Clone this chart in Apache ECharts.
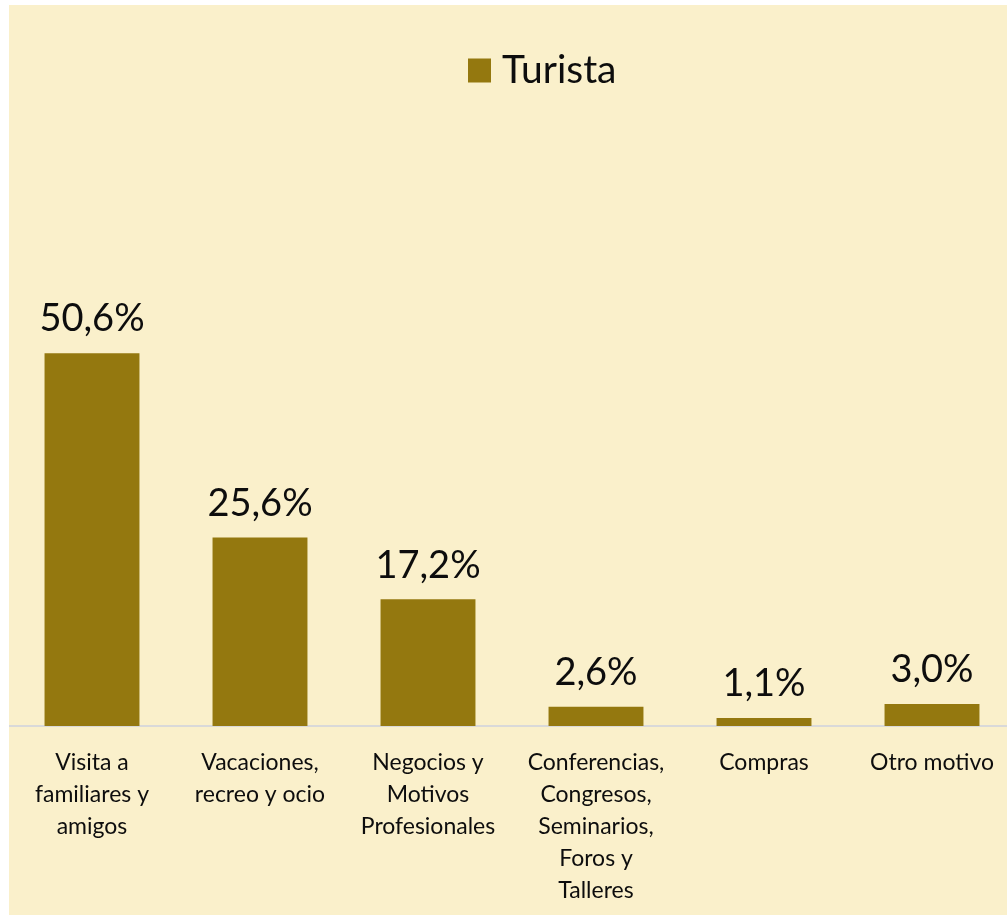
<!DOCTYPE html>
<html>
<head>
<meta charset="utf-8">
<script src="https://cdn.jsdelivr.net/npm/echarts@6/dist/echarts.min.js"></script>
<style>
html,body{margin:0;padding:0;background:#fff;overflow:hidden;}
#main{position:absolute;left:9px;top:5px;width:998px;height:910px;}
</style>
</head>
<body>
<div id="main"></div>
<script>
var categorias = ['Visita a\nfamiliares y\namigos', 'Vacaciones,\nrecreo y ocio', 'Negocios y\nMotivos\nProfesionales',
    'Conferencias,\nCongresos,\nSeminarios,\nForos y\nTalleres', 'Compras', 'Otro motivo'];
var turista = [50.6, 25.6, 17.2, 2.6, 1.1, 3.0];

var myChart = echarts.init(document.getElementById('main'));
var option = {
    backgroundColor: '#faf0cb',
    legend: {
        data: ['Turista'],
        left: 454,
        top: 41,
        itemWidth: 23,
        itemHeight: 24,
        icon: 'rect',
        textStyle: {
            fontFamily: 'Lato',
            fontSize: 39,
            color: '#0d0d0d',
            padding: [0, 0, 0, 6]
        }
    },
    grid: {
        left: -1,
        top: 279,
        width: 1008,
        height: 442,
        outerBoundsMode: 'none'
    },
    xAxis: {
        type: 'category',
        data: categorias,
        axisLine: { lineStyle: { color: '#d9d9d9', width: 2 } },
        axisTick: { show: false },
        axisLabel: {
            interval: 0,
            margin: 21,
            fontFamily: 'Lato',
            fontSize: 23,
            lineHeight: 32,
            color: '#0d0d0d'
        }
    },
    yAxis: {
        type: 'value',
        min: 0,
        max: 60,
        show: false
    },
    series: [{
        name: 'Turista',
        type: 'bar',
        data: turista,
        barWidth: '56.5%',
        itemStyle: { color: '#94780f' },
        label: {
            show: true,
            position: 'top',
            distance: 15,
            fontFamily: 'Lato',
            fontSize: 38,
            color: '#0d0d0d',
            formatter: function (p) {
                return p.value.toFixed(1).replace('.', ',') + '%';
            }
        }
    }]
};
myChart.setOption(option);
</script>
</body>
</html>
